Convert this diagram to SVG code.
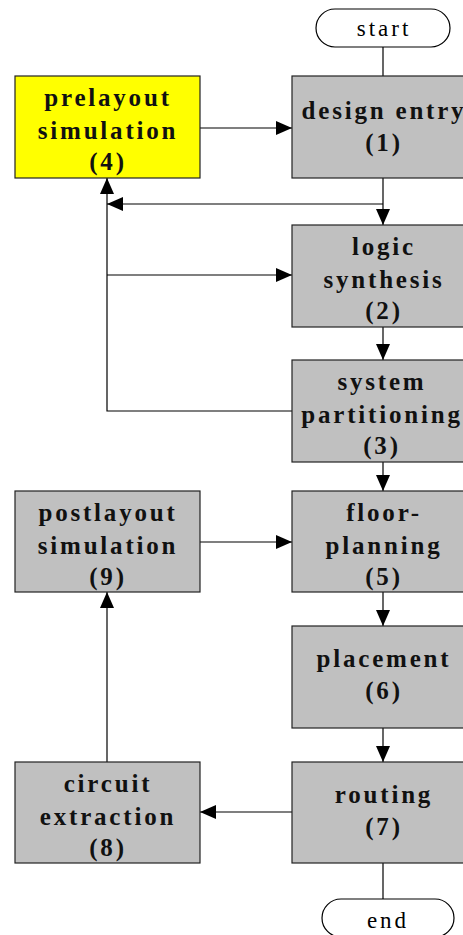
<svg xmlns="http://www.w3.org/2000/svg" width="463" height="935" viewBox="0 0 463 935">
  <style>
    .box { fill: #c0c0c0; stroke: #222; stroke-width: 1.2; }
    .hl { fill: #ffff00; }
    .term { fill: #fff; stroke: #000; stroke-width: 1.2; }
    .lbl { font-family: "Liberation Serif", "Times New Roman", serif; font-weight: bold; font-size: 25px; letter-spacing: 2.8px; text-anchor: middle; fill: #111; }
    .tlbl { font-family: "Liberation Serif", "Times New Roman", serif; font-size: 23px; letter-spacing: 3px; text-anchor: middle; fill: #000; }
    .wire { fill: none; stroke: #000; stroke-width: 1.2; }
  </style>
  <defs>
    <marker id="arrow" viewBox="0 0 16 14" refX="16" refY="7" markerWidth="16" markerHeight="14" markerUnits="userSpaceOnUse" orient="auto">
      <path d="M0,0 L16,7 L0,14 Z" fill="#000"/>
    </marker>
  </defs>

  <!-- connectors -->
  <g id="connectors">
    <line class="wire" x1="383" y1="47" x2="383" y2="76"/>
    <line class="wire" x1="200" y1="128" x2="292" y2="128" marker-end="url(#arrow)"/>
    <line class="wire" x1="383" y1="178" x2="383" y2="225" marker-end="url(#arrow)"/>
    <line class="wire" x1="383" y1="204" x2="107" y2="204" marker-end="url(#arrow)"/>
    <polyline class="wire" points="292,411 107,411 107,178" marker-end="url(#arrow)"/>
    <line class="wire" x1="107" y1="275" x2="292" y2="275" marker-end="url(#arrow)"/>
    <line class="wire" x1="383" y1="327" x2="383" y2="360" marker-end="url(#arrow)"/>
    <line class="wire" x1="383" y1="462" x2="383" y2="491" marker-end="url(#arrow)"/>
    <line class="wire" x1="200" y1="542" x2="292" y2="542" marker-end="url(#arrow)"/>
    <line class="wire" x1="383" y1="592" x2="383" y2="626" marker-end="url(#arrow)"/>
    <line class="wire" x1="383" y1="728" x2="383" y2="762" marker-end="url(#arrow)"/>
    <line class="wire" x1="292" y1="812" x2="200" y2="812" marker-end="url(#arrow)"/>
    <line class="wire" x1="107" y1="762" x2="107" y2="592" marker-end="url(#arrow)"/>
    <line class="wire" x1="383" y1="863" x2="383" y2="899"/>
  </g>

  <g id="start">
    <rect class="term" x="316" y="9" width="134" height="38" rx="19" ry="19"/>
    <text class="tlbl" x="384" y="36">start</text>
  </g>

  <g id="prelayout-simulation">
    <rect class="box hl" x="15" y="76" width="185" height="102"/>
    <text class="lbl" x="108" y="106">prelayout</text>
    <text class="lbl" x="108" y="138.5">simulation</text>
    <text class="lbl" x="108" y="170">(4)</text>
  </g>

  <g id="design-entry">
    <rect class="box" x="292" y="76" width="185" height="102"/>
    <text class="lbl" x="384" y="119">design entry</text>
    <text class="lbl" x="384" y="151">(1)</text>
  </g>

  <g id="logic-synthesis">
    <rect class="box" x="292" y="225" width="185" height="102"/>
    <text class="lbl" x="384" y="255">logic</text>
    <text class="lbl" x="384" y="287.5">synthesis</text>
    <text class="lbl" x="384" y="319">(2)</text>
  </g>

  <g id="system-partitioning">
    <rect class="box" x="292" y="360" width="185" height="102"/>
    <text class="lbl" x="382" y="390">system</text>
    <text class="lbl" x="382" y="422.5">partitioning</text>
    <text class="lbl" x="382" y="454">(3)</text>
  </g>

  <g id="postlayout-simulation">
    <rect class="box" x="15" y="491" width="185" height="101"/>
    <text class="lbl" x="108" y="521">postlayout</text>
    <text class="lbl" x="108" y="553.5">simulation</text>
    <text class="lbl" x="108" y="585">(9)</text>
  </g>

  <g id="floorplanning">
    <rect class="box" x="292" y="491" width="185" height="101"/>
    <text class="lbl" x="384" y="521">floor-</text>
    <text class="lbl" x="384" y="553.5">planning</text>
    <text class="lbl" x="384" y="585">(5)</text>
  </g>

  <g id="placement">
    <rect class="box" x="292" y="626" width="185" height="102"/>
    <text class="lbl" x="384" y="667">placement</text>
    <text class="lbl" x="384" y="699">(6)</text>
  </g>

  <g id="circuit-extraction">
    <rect class="box" x="15" y="762" width="185" height="101"/>
    <text class="lbl" x="108" y="792">circuit</text>
    <text class="lbl" x="108" y="824.5">extraction</text>
    <text class="lbl" x="108" y="856">(8)</text>
  </g>

  <g id="routing">
    <rect class="box" x="292" y="762" width="185" height="101"/>
    <text class="lbl" x="384" y="803">routing</text>
    <text class="lbl" x="384" y="835">(7)</text>
  </g>

  <g id="end">
    <rect class="term" x="322" y="899" width="132" height="38" rx="19" ry="19"/>
    <text class="tlbl" x="388" y="928">end</text>
  </g>
</svg>
